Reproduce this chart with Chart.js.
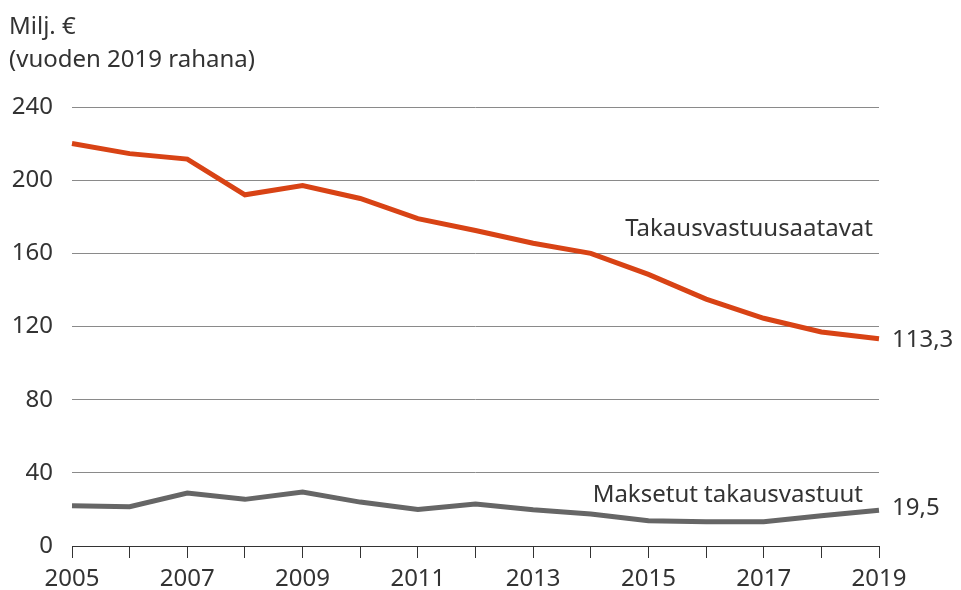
<!DOCTYPE html>
<html>
<head>
<meta charset="utf-8">
<script src="https://cdn.jsdelivr.net/npm/chart.js@4"></script>
<style>
  html, body { margin: 0; padding: 0; background: #fff; }
  #wrap { width: 961px; height: 590px; position: relative; }
</style>
</head>
<body>
<div id="wrap"><canvas id="chart"></canvas></div>
<script>
const years = ['2005', '2006', '2007', '2008', '2009', '2010', '2011', '2012', '2013', '2014', '2015', '2016', '2017', '2018', '2019'];
const takausvastuusaatavat = [220, 214.5, 211.5, 192, 197, 190, 179, 172.5, 165.5, 160, 148.5, 135, 124.5, 117, 113.3];
const maksetut = [22, 21.5, 29, 25.5, 29.5, 24, 20, 23, 19.8, 17.5, 13.8, 13.2, 13.2, 16.5, 19.5];
const yTicks = [0, 40, 80, 120, 160, 200, 240];

const fontFamily = "'Noto Sans', sans-serif";
const fontSize = 24;
const textColor = '#333333';
const red = '#d84315';
const grey = '#666666';

// title and line labels
const annotations = {
    id: 'annotations',
    afterDraw(chart) {
        const ctx = chart.ctx;
        const x = chart.scales.x;
        const y = chart.scales.y;
        ctx.save();
        ctx.fillStyle = textColor;
        ctx.font = fontSize + 'px ' + fontFamily;
        ctx.textBaseline = 'middle';
        ctx.textAlign = 'left';
        ctx.fillText('Milj. €', 9, 27);
        ctx.fillText('(vuoden 2019 rahana)', 9, 60);

        const last = years.length - 1;
        const xEnd = x.getPixelForValue(last);
        ctx.fillText(String(takausvastuusaatavat[last]).replace('.', ','), xEnd + 13, y.getPixelForValue(takausvastuusaatavat[last]) + 1);
        ctx.fillText(String(maksetut[last]).replace('.', ','), xEnd + 13, y.getPixelForValue(maksetut[last]) - 2);

        ctx.textAlign = 'right';
        ctx.fillText('Takausvastuusaatavat', xEnd - 6, y.getPixelForValue(173));
        ctx.fillText('Maksetut takausvastuut', xEnd - 16, y.getPixelForValue(28));
        ctx.restore();
    }
};

new Chart(document.getElementById('chart'), {
    type: 'line',
    data: {
        labels: years,
        datasets: [
            {
                label: 'Takausvastuusaatavat',
                data: takausvastuusaatavat,
                borderColor: red,
                borderWidth: 5,
                pointRadius: 0,
                tension: 0,
                fill: false
            },
            {
                label: 'Maksetut takausvastuut',
                data: maksetut,
                borderColor: grey,
                borderWidth: 5,
                pointRadius: 0,
                tension: 0,
                fill: false
            }
        ]
    },
    options: {
        responsive: true,
        maintainAspectRatio: false,
        animation: false,
        layout: { padding: { top: 107, right: 82, left: 0, bottom: 0 } },
        plugins: {
            legend: { display: false },
            tooltip: { enabled: false }
        },
        scales: {
            x: {
                type: 'category',
                offset: false,
                afterFit: function (scale) { scale.height = 44; },
                grid: {
                    drawOnChartArea: false,
                    drawTicks: true,
                    tickLength: 12,
                    color: '#333333'
                },
                border: { display: true, color: '#333333', width: 1 },
                ticks: {
                    autoSkip: false,
                    maxRotation: 0,
                    padding: 7,
                    color: textColor,
                    font: { family: fontFamily, size: fontSize },
                    callback: function (value, index) {
                        return index % 2 === 0 ? years[index] : '';
                    }
                }
            },
            y: {
                min: 0,
                max: 240,
                afterFit: function (scale) { scale.width = 72; },
                afterBuildTicks: function (scale) {
                    scale.ticks = yTicks.map(v => ({ value: v }));
                },
                grid: {
                    drawTicks: false,
                    color: '#8a8a8a',
                    lineWidth: 1
                },
                border: { display: false },
                ticks: {
                    padding: 19,
                    color: textColor,
                    font: { family: fontFamily, size: fontSize }
                }
            }
        }
    },
    plugins: [annotations]
});
</script>
</body>
</html>
